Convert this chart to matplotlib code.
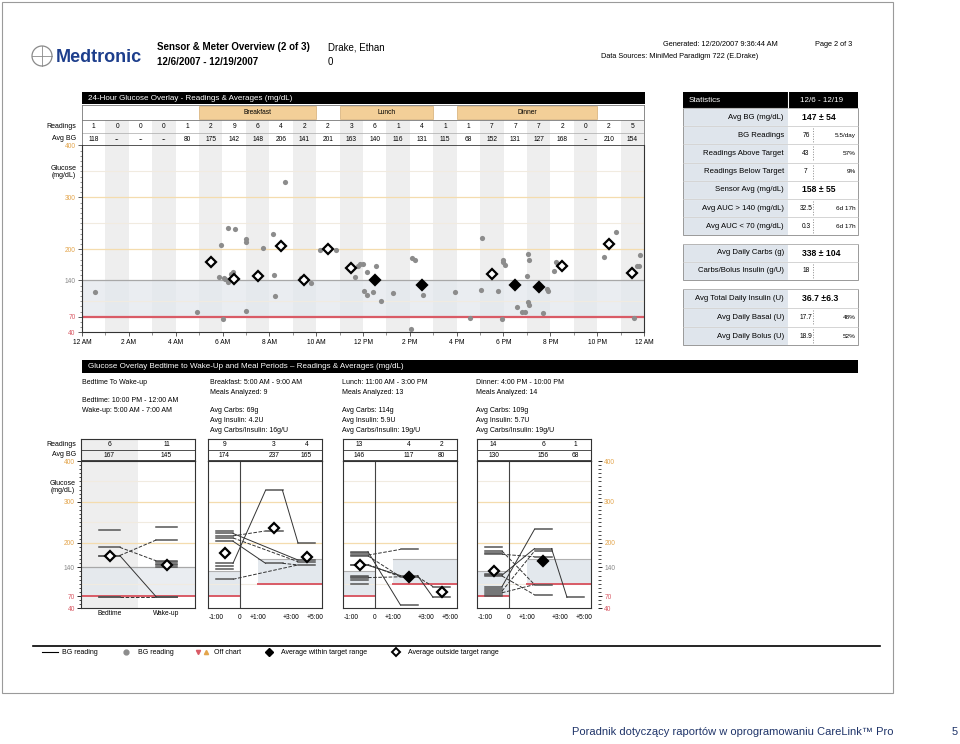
import matplotlib.pyplot as plt
from matplotlib.patches import Rectangle, Circle
from matplotlib.lines import Line2D
from matplotlib.legend_handler import HandlerTuple
import numpy as np

plt.rcParams['font.family'] = ['Liberation Sans', 'DejaVu Sans']

# ---------------- data: 24-hour overlay ----------------
hour_readings = [1, 0, 0, 0, 1, 2, 9, 6, 4, 2, 2, 3, 6, 1, 4, 1, 1, 7, 7, 7, 2, 0, 2, 5]
hour_avg = [118, None, None, None, 80, 175, 142, 148, 206, 141, 201, 163,
            140, 116, 131, 115, 68, 152, 131, 127, 168, None, 210, 154]
meal_names = ['Breakfast', 'Lunch', 'Dinner']
meal_start = [5, 11, 16]
meal_end = [10, 15, 22]

bg_time = [0.56, 4.93, 5.85, 5.93, 6.03, 6.05, 6.10, 6.22, 6.22, 6.35, 6.44, 6.55,
           7.0, 7.0, 7.0, 7.75, 8.16, 8.18, 8.23, 8.65, 9.36, 9.45, 9.8, 10.17,
           10.83, 11.67, 11.78, 11.88, 12.0, 12.05, 12.17, 12.19, 12.42, 12.55, 12.79,
           13.28, 14.05, 14.09, 14.23, 14.57, 15.91, 16.57, 17.04, 17.07, 17.75, 17.95,
           17.96, 18.0, 18.05, 18.57, 18.8, 18.93, 19.0, 19.05, 19.05, 19.08, 19.1,
           19.69, 19.87, 19.91, 20.14, 20.26, 22.3, 22.8, 23.59, 23.7, 23.8, 23.82]
bg_value = [117, 79, 147, 209, 66, 145, 142, 241, 136, 152, 157, 239,
            220, 214, 82, 203, 229, 150, 110, 329, 145, 144, 135, 199,
            198, 147, 168, 171, 171, 119, 111, 157, 117, 168, 100,
            115, 47, 183, 180, 111, 118, 67, 121, 221, 120, 66,
            179, 175, 170, 89, 80, 80, 148, 190, 98, 92, 179,
            77, 123, 119, 159, 175, 185, 233, 67, 168, 168, 189]

target_low, target_high = 70, 140
tick_hours = list(range(0, 25, 2))
tick_text = ['12 AM', '2 AM', '4 AM', '6 AM', '8 AM', '10 AM', '12 PM',
             '2 PM', '4 PM', '6 PM', '8 PM', '10 PM', '12 AM']

# ---------------- data: statistics ----------------
stat1_labels = ['Avg BG (mg/dL)', 'BG Readings', 'Readings Above Target',
                'Readings Below Target', 'Sensor Avg (mg/dL)',
                'Avg AUC > 140 (mg/dL)', 'Avg AUC < 70 (mg/dL)']
stat1_values = ['147 \u00b1 54', '76', '43', '7', '158 \u00b1 55', '32.5', '0.3']
stat1_subs = [None, '5.5/day', '57%', '9%', None, '6d 17h', '6d 17h']
stat2_labels = ['Avg Daily Carbs (g)', 'Carbs/Bolus Insulin (g/U)']
stat2_values = ['338 \u00b1 104', '18']
stat2_subs = [None, '']
stat3_labels = ['Avg Total Daily Insulin (U)', 'Avg Daily Basal (U)', 'Avg Daily Bolus (U)']
stat3_values = ['36.7 \u00b16.3', '17.7', '18.9']
stat3_subs = [None, '48%', '52%']

# ---------------- data: bedtime / meal periods ----------------
bed_cols = ['Bedtime', 'Wake-up']
bed_readings = [6, 11]
bed_avg = [167, 145]
bed_values = [[232, 189, 169, 167, 68, 68],
              [238, 207, 156, 152, 149, 146, 141, 68, 68, 68, 68]]
bed_links = [(169, 207, '--'), (189, 156, '--'), (169, 68, '-'), (68, 68, '--')]

period_titles = ['Breakfast: 5:00 AM - 9:00 AM', 'Lunch: 11:00 AM - 3:00 PM',
                 'Dinner: 4:00 PM - 10:00 PM']
meals_analyzed = [9, 13, 14]
avg_carbs = ['69g', '114g', '109g']
avg_insulin = ['4.2U', '5.9U', '5.7U']
avg_ratio = ['16g/U', '19g/U', '19g/U']
period_readings = [[9, 3, 4], [13, 4, 2], [14, 6, 1]]
period_avg = [[174, 237, 165], [146, 117, 80], [130, 156, 68]]
period_in_range = [[False, False, False], [False, True, False], [False, True, False]]
period_values = [
    [[229, 223, 217, 212, 204, 150, 144, 136, 111], [328, 229, 150], [200, 158, 154, 146]],
    [[178, 176, 170, 168, 147, 145, 119, 117, 115, 109, 100], [184, 120, 117, 48], [93, 67]],
    [[190, 180, 176, 172, 124, 121, 119, 93, 86, 82, 78, 73, 70], [233, 186, 180, 166, 98, 73], [67]],
]
period_links = [
    [(0, 150, 1, 328, '-'), (1, 328, 2, 200, '-'), (0, 111, 2, 146, '--'), (0, 217, 1, 229, '--'),
     (0, 223, 2, 158, '-'), (0, 212, 2, 154, '--'), (0, 204, 1, 150, '-'), (1, 150, 2, 146, '--')],
    [(0, 178, 1, 48, '-'), (0, 170, 1, 184, '--'), (0, 147, 1, 117, '--'), (0, 145, 1, 120, '-'),
     (0, 115, 1, 117, '--'), (1, 117, 2, 93, '--'), (1, 120, 2, 67, '-'), (0, 168, 1, 117, '--')],
    [(0, 93, 1, 233, '-'), (0, 121, 1, 186, '-'), (0, 82, 1, 180, '--'), (0, 172, 1, 166, '--'),
     (0, 180, 1, 98, '--'), (0, 119, 1, 73, '--'), (1, 186, 2, 67, '-'), (0, 78, 1, 98, '--')],
]
pre_target = (70, 130)
post_target = (100, 160)
period_ticks = ['-1:00', '0', '+1:00', '+3:00', '+5:00']

# ---------------- styles ----------------
ORANGE = '#e3a54c'
RED = '#d95b66'
BAND = '#e3e8ed'
COLSHADE = '#eeeeee'
MEALC = '#f3cf98'
DOT = '#8c8c8c'
FAINT = '#f1ebe0'
ORLINE = '#f4dcae'
STATBG = '#dfe5ec'
ytick_vals = [40, 70, 140, 200, 300, 400]
ytick_cols = [RED, RED, '#888888', ORANGE, ORANGE, ORANGE]

# layout of meal panels (local x units)
SLOT_C = [16.5, 66, 98.5]
HALF = 8.5
ZERO_X = 31.5
PLUS1_X = 50
TICK_X = [8, 31.5, 50, 83, 107.5]
PW = 114

W, H = 960, 744
fig = plt.figure(figsize=(W / 100, H / 100), dpi=100)


def box(x0, y0, x1, y1):
    return [x0 / W, 1 - y1 / H, (x1 - x0) / W, (y1 - y0) / H]


page = fig.add_axes([0, 0, 1, 1])
page.set_xlim(0, W)
page.set_ylim(H, 0)
page.axis('off')

# page frame + header
page.add_patch(Rectangle((2, 2), 891, 691, fill=False, ec='#9a9a9a', lw=0.8))
page.add_patch(Circle((42, 56), 10, fill=False, ec='#8a8a8a', lw=0.9))
page.plot([32, 52], [56, 56], color='#8a8a8a', lw=0.6)
page.plot([42, 42], [46, 66], color='#8a8a8a', lw=0.6)
page.text(56, 57, 'Medtronic', fontsize=13, weight='heavy', color='#1d3e8c', va='center')
page.text(157, 47, 'Sensor & Meter Overview (2 of 3)', fontsize=7, weight='bold', va='center')
page.text(157, 62, '12/6/2007 - 12/19/2007', fontsize=7, weight='bold', va='center')
page.text(328, 47, 'Drake, Ethan', fontsize=7, va='center')
page.text(328, 62, '0', fontsize=7, va='center')
page.text(663, 44, 'Generated: 12/20/2007 9:36:44 AM', fontsize=5.3, va='center')
page.text(815, 44, 'Page 2 of 3', fontsize=5.3, va='center')
page.text(601, 57, 'Data Sources: MiniMed Paradigm 722 (E.Drake)', fontsize=5.3, va='center')

# ---------------- 24-hour overlay ----------------
page.add_patch(Rectangle((82, 92), 563, 12, fc='black'))
page.text(88, 98, '24-Hour Glucose Overlay - Readings & Averages (mg/dL)', color='white',
          fontsize=5.8, va='center')
page.text(76, 127, 'Readings', ha='right', va='center', fontsize=5)
page.text(76, 139, 'Avg BG', ha='right', va='center', fontsize=5)
page.text(64, 172, 'Glucose\n(mg/dL)', ha='center', va='center', fontsize=5, linespacing=1.0)

hdr = fig.add_axes(box(82, 105, 644, 146))
hdr.set_xlim(0, 24)
hdr.set_ylim(0, 1)
hdr.set_xticks([])
hdr.set_yticks([])
for s in hdr.spines.values():
    s.set_color('#777777')
    s.set_linewidth(0.6)
hdr.spines['bottom'].set_visible(False)
f1, f2 = 26 / 41, 13 / 41
for h in range(24):
    if h % 2 == 1:
        hdr.axvspan(h, h + 1, 0, f1, color=COLSHADE, lw=0)
for name, s, e in zip(meal_names, meal_start, meal_end):
    hdr.axvspan(s, e, f1 + 0.03, 0.98, fc=MEALC, ec='#d5ad74', lw=0.5)
    hdr.text((s + e) / 2, (1 + f1) / 2 + 0.01, name, ha='center', va='center', fontsize=4.8)
hdr.axhline(f1, color='#777777', lw=0.6)
hdr.axhline(f2, color='#aaaaaa', lw=0.5)
hdr.axhline(0, color='#222222', lw=1.8)
for h, (n, a) in enumerate(zip(hour_readings, hour_avg)):
    hdr.text(h + 0.5, (f1 + f2) / 2, str(n), ha='center', va='center', fontsize=4.8)
    hdr.text(h + 0.5, f2 / 2, '--' if a is None else str(a), ha='center', va='center', fontsize=4.8)

ax = fig.add_axes(box(82, 145.5, 644, 332.3))
ax.set_xlim(0, 24)
ax.set_ylim(40, 400)
for h in range(24):
    if h % 2 == 1:
        ax.axvspan(h, h + 1, color=COLSHADE, lw=0, zorder=0)
ax.axhspan(target_low, target_high, color=BAND, alpha=0.75, lw=0, zorder=0.5)
for v in (100, 250, 350):
    ax.axhline(v, color=FAINT, lw=0.8, zorder=1)
for v in (200, 300):
    ax.axhline(v, color=ORLINE, lw=0.9, zorder=1)
ax.axhline(target_high, color='#a8a8a8', lw=0.9, zorder=1)
ax.axhline(target_low, color=RED, lw=1.6, zorder=1)
ax.scatter(bg_time, bg_value, s=14, color=DOT, lw=0, zorder=3)
for h, (n, a) in enumerate(zip(hour_readings, hour_avg)):
    if a is None or n < 2:
        continue
    inside = target_low <= a <= target_high
    ax.plot(h + 0.5, a, marker='D', ms=5.5, mec='black', mew=1.6,
            mfc='black' if inside else 'white', zorder=4)
ax.set_xticks(tick_hours)
ax.set_xticklabels(tick_text, fontsize=4.8)
ax.set_xticks(range(25), minor=True)
ax.set_yticks(ytick_vals)
ax.set_yticklabels([str(v) for v in ytick_vals], fontsize=4.8)
for lab, c in zip(ax.get_yticklabels(), ytick_cols):
    lab.set_color(c)
ax.set_yticks(range(40, 401, 10), minor=True)
ax.tick_params(axis='both', which='major', length=3, width=0.6, pad=1.5, color='#444444')
ax.tick_params(axis='both', which='minor', length=1.8, width=0.5, color='#666666')
ax.spines['top'].set_visible(False)
for k in ('left', 'bottom', 'right'):
    ax.spines[k].set_color('#333333')
    ax.spines[k].set_linewidth(0.8)

# ---------------- statistics ----------------
page.add_patch(Rectangle((683, 92), 175, 16, fc='black'))
page.text(689, 100, 'Statistics', color='white', fontsize=5.8, va='center')
page.plot([787.5, 787.5], [92, 108], color='white', lw=0.8)
page.text(822, 100, '12/6 - 12/19', color='white', fontsize=5.8, va='center', ha='center')


def stat_table(top, labels, values, subs, row_h):
    for i, (lab, val, sub) in enumerate(zip(labels, values, subs)):
        y0 = top + i * row_h
        page.add_patch(Rectangle((683, y0), 105, row_h, fc=STATBG, ec='white', lw=0.8))
        page.plot([683, 858], [y0, y0], color='#c4c4c4', lw=0.5)
        page.text(784, y0 + row_h / 2, lab, ha='right', va='center', fontsize=5.6)
        if sub is None:
            page.text(802, y0 + row_h / 2, val, va='center', fontsize=6.2, weight='bold')
        else:
            page.text(806, y0 + row_h / 2, val, ha='center', va='center', fontsize=4.8)
            page.text(856, y0 + row_h / 2, sub, ha='right', va='center', fontsize=4.6)
            page.plot([813, 813], [y0 + 2, y0 + row_h - 2], ls=':', color='#888888', lw=0.7)
    page.add_patch(Rectangle((683, top), 175, row_h * len(labels), fill=False,
                             ec='#999999', lw=0.7))


stat_table(108, stat1_labels, stat1_values, stat1_subs, 18.2)
stat_table(244, stat2_labels, stat2_values, stat2_subs, 18)
stat_table(289, stat3_labels, stat3_values, stat3_subs, 18.8)

# ---------------- bedtime / meal periods ----------------
page.add_patch(Rectangle((82, 360), 776, 13, fc='black'))
page.text(88, 366.5, 'Glucose Overlay Bedtime to Wake-Up and Meal Periods \u2013 Readings & Averages (mg/dL)',
          color='white', fontsize=5.8, va='center')
page.text(82, 382, 'Bedtime To Wake-up', fontsize=5, va='center')
page.text(82, 401, 'Bedtime: 10:00 PM - 12:00 AM', fontsize=5, va='center')
page.text(82, 411, 'Wake-up: 5:00 AM - 7:00 AM', fontsize=5, va='center')
block_x = [210, 342, 476]
for i, bx in enumerate(block_x):
    page.text(bx, 382, period_titles[i], fontsize=5, va='center')
    page.text(bx, 392, 'Meals Analyzed: %d' % meals_analyzed[i], fontsize=5, va='center')
    page.text(bx, 411, 'Avg Carbs: ' + avg_carbs[i], fontsize=5, va='center')
    page.text(bx, 421, 'Avg Insulin: ' + avg_insulin[i], fontsize=5, va='center')
    page.text(bx, 431, 'Avg Carbs/Insulin: ' + avg_ratio[i], fontsize=5, va='center')

page.text(76, 444, 'Readings', ha='right', va='center', fontsize=5)
page.text(76, 455, 'Avg BG', ha='right', va='center', fontsize=5)
page.text(63, 487, 'Glucose\n(mg/dL)', ha='center', va='center', fontsize=5, linespacing=1.0)


def glucose_background(a):
    for v in (100, 250, 350):
        a.axhline(v, color=FAINT, lw=0.8, zorder=1)
    for v in (200, 300):
        a.axhline(v, color=ORLINE, lw=0.9, zorder=1)


def style_box(a):
    for s in a.spines.values():
        s.set_color('#333333')
        s.set_linewidth(0.8)


def rows_axes(x0, xlim):
    r = fig.add_axes(box(x0, 439, x0 + PW, 461))
    r.set_xlim(*xlim)
    r.set_ylim(0, 1)
    r.set_xticks([])
    r.set_yticks([])
    style_box(r)
    r.axhline(0.5, color='#333333', lw=0.6)
    r.axhline(0, color='#111111', lw=1.8)
    return r


# bedtime panel
bx0 = 81
rb = rows_axes(bx0, (0, 2))
rb.axvspan(0, 1, color=COLSHADE, lw=0, zorder=0)
for j in range(2):
    rb.text(j + 0.5, 0.75, str(bed_readings[j]), ha='center', va='center', fontsize=4.8)
    rb.text(j + 0.5, 0.25, str(bed_avg[j]), ha='center', va='center', fontsize=4.8)

pb = fig.add_axes(box(bx0, 461, bx0 + PW, 608.3))
pb.set_xlim(0, 2)
pb.set_ylim(40, 400)
pb.axvspan(0, 1, color=COLSHADE, lw=0, zorder=0)
pb.axhspan(target_low, target_high, color=BAND, alpha=0.75, lw=0, zorder=0.5)
glucose_background(pb)
pb.axhline(target_high, color='#a8a8a8', lw=0.9, zorder=1)
pb.axhline(target_low, color=RED, lw=1.4, zorder=1)
bhw = 0.18
for j in range(2):
    for v in bed_values[j]:
        pb.plot([j + 0.5 - bhw, j + 0.5 + bhw], [v, v], color='#555555', lw=1.1, zorder=2)
for va_, vb_, ls in bed_links:
    pb.plot([0.5 + bhw, 1.5 - bhw], [va_, vb_], color='#333333', lw=0.7, ls=ls, zorder=2)
for j in range(2):
    inside = target_low <= bed_avg[j] <= target_high
    pb.plot(j + 0.5, bed_avg[j], marker='D', ms=5.5, mec='black', mew=1.6,
            mfc='black' if inside else 'white', zorder=4)
pb.set_xticks([0.5, 1.5])
pb.set_xticklabels(bed_cols, fontsize=4.8)
pb.set_yticks(ytick_vals)
pb.set_yticklabels([str(v) for v in ytick_vals], fontsize=4.8)
for lab, c in zip(pb.get_yticklabels(), ytick_cols):
    lab.set_color(c)
pb.set_yticks(range(40, 401, 10), minor=True)
pb.tick_params(axis='x', length=0, pad=1)
pb.tick_params(axis='y', which='major', length=3, width=0.6, pad=1.5)
pb.tick_params(axis='y', which='minor', length=1.8, width=0.5)
style_box(pb)

# meal panels
panel_x0 = [208, 343, 477]
for i, x0 in enumerate(panel_x0):
    r = rows_axes(x0, (0, PW))
    for k in range(3):
        r.text(SLOT_C[k], 0.75, str(period_readings[i][k]), ha='center', va='center', fontsize=4.8)
        r.text(SLOT_C[k], 0.25, str(period_avg[i][k]), ha='center', va='center', fontsize=4.8)

    p = fig.add_axes(box(x0, 461, x0 + PW, 608.3))
    p.set_xlim(0, PW)
    p.set_ylim(40, 400)
    glucose_background(p)
    p.fill_between([0, ZERO_X], pre_target[0], pre_target[1], color=BAND, lw=0, zorder=0.5)
    p.fill_between([PLUS1_X, PW], post_target[0], post_target[1], color=BAND, lw=0, zorder=0.5)
    p.plot([0, ZERO_X], [pre_target[1]] * 2, color='#b0b0b0', lw=0.8, zorder=1)
    p.plot([PLUS1_X, PW], [post_target[1]] * 2, color='#b0b0b0', lw=0.8, zorder=1)
    p.plot([0, ZERO_X], [pre_target[0]] * 2, color=RED, lw=1.4, zorder=1)
    p.plot([PLUS1_X, PW], [post_target[0]] * 2, color=RED, lw=1.4, zorder=1)
    p.axvline(ZERO_X, color='#444444', lw=0.8, zorder=1.5)
    for k in range(3):
        for v in period_values[i][k]:
            p.plot([SLOT_C[k] - HALF, SLOT_C[k] + HALF], [v, v], color='#555555', lw=1.1, zorder=2)
    for sa, va_, sb, vb_, ls in period_links[i]:
        p.plot([SLOT_C[sa] + HALF, SLOT_C[sb] - HALF], [va_, vb_], color='#333333',
               lw=0.7, ls=ls, zorder=2)
    for k in range(3):
        if period_readings[i][k] < 2:
            continue
        p.plot(SLOT_C[k], period_avg[i][k], marker='D', ms=5.5, mec='black', mew=1.6,
               mfc='black' if period_in_range[i][k] else 'white', zorder=4)
    p.set_xticks(TICK_X)
    p.set_xticklabels(period_ticks, fontsize=4.8)
    p.set_yticks([])
    p.tick_params(axis='x', length=0, pad=4)
    style_box(p)

# right-hand glucose scale
rax = fig.add_axes(box(590, 461, 598, 608.3))
rax.set_ylim(40, 400)
rax.set_xticks([])
for s in rax.spines.values():
    s.set_visible(False)
rax.patch.set_alpha(0)
rax.yaxis.tick_right()
rax.set_yticks(ytick_vals)
rax.set_yticklabels([str(v) for v in ytick_vals], fontsize=4.8)
for lab, c in zip(rax.get_yticklabels(), ytick_cols):
    lab.set_color(c)
rax.set_yticks(range(40, 401, 10), minor=True)
rax.tick_params(axis='y', which='major', length=3, width=0.6, pad=1.5)
rax.tick_params(axis='y', which='minor', length=1.8, width=0.5)

# ---------------- legend ----------------
page.plot([33, 880], [646, 646], color='black', lw=1.2)
h1 = Line2D([], [], color='black', lw=0.8)
h2 = Line2D([], [], marker='o', color=DOT, ls='none', ms=3.5)
h3 = (Line2D([], [], marker='v', color=RED, ls='none', ms=3),
      Line2D([], [], marker='^', color=ORANGE, ls='none', ms=3))
h4 = Line2D([], [], marker='D', color='black', ls='none', ms=4.5)
h5 = Line2D([], [], marker='D', mfc='white', mec='black', mew=1.4, ls='none', ms=4.5)
fig.legend([h1, h2, h3, h4, h5],
           ['BG reading', 'BG reading', 'Off chart', 'Average within target range',
            'Average outside target range'],
           handler_map={tuple: HandlerTuple(ndivide=None, pad=0)},
           ncol=5, loc='center left', bbox_to_anchor=(36 / W, 1 - 653 / H),
           frameon=False, fontsize=5, columnspacing=3, handlelength=2.2, handletextpad=0.6)

# ---------------- footer ----------------
page.text(893, 732, 'Poradnik dotycz\u0105cy raport\u00f3w w oprogramowaniu CareLink\u2122 Pro',
          color='#1f3469', fontsize=8, va='center', ha='right')
page.text(955, 732, '5', color='#1f3469', fontsize=8, va='center', ha='center')

fig.savefig('out.png', dpi=100)
